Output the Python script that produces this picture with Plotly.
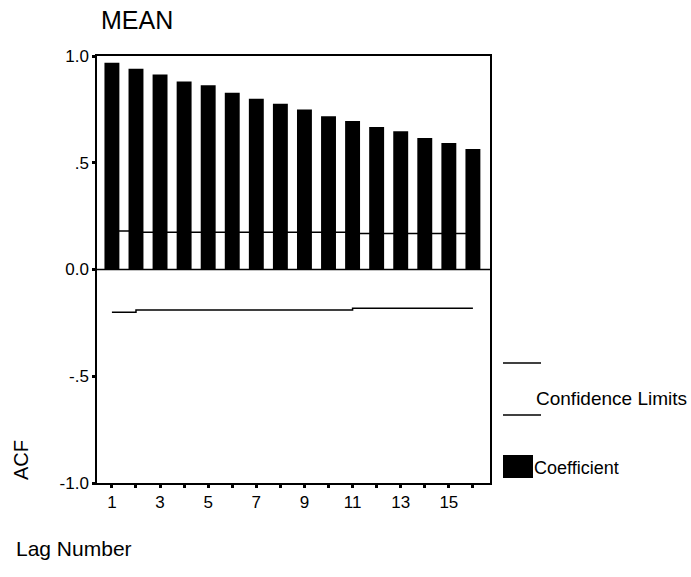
import plotly.graph_objects as go

lags = list(range(1, 17))
acf = [0.968, 0.940, 0.913, 0.880, 0.863, 0.828, 0.800, 0.776,
       0.749, 0.718, 0.696, 0.668, 0.647, 0.616, 0.592, 0.564]
upper_conf = [0.180, 0.174, 0.174, 0.174, 0.174, 0.174, 0.174, 0.174,
              0.174, 0.174, 0.169, 0.169, 0.169, 0.169, 0.169, 0.169]
lower_conf = [-0.200, -0.190, -0.190, -0.190, -0.190, -0.190, -0.190, -0.190,
              -0.190, -0.190, -0.182, -0.182, -0.182, -0.182, -0.182, -0.182]
x_tick_vals = lags
x_tick_text = ["1", "", "3", "", "5", "", "7", "", "9", "", "11", "", "13", "", "15", ""]
y_tick_vals = [1.0, 0.5, 0.0, -0.5, -1.0]
y_tick_text = ["1.0", ".5", "0.0", "-.5", "-1.0"]

W, H = 691, 577
L, R, T, B = 97, 490, 56, 483
FONT = "Liberation Sans, Arial, sans-serif"

def px(x):
    return (x - L) / (R - L)

def py(y):
    return (B - y) / (B - T)

fig = go.Figure()
fig.add_trace(go.Scatter(x=lags, y=upper_conf, mode="lines", line=dict(color="black", width=1.5, shape="hv"),
                         showlegend=False, hoverinfo="skip"))
fig.add_trace(go.Scatter(x=lags, y=lower_conf, mode="lines", line=dict(color="black", width=1.5, shape="hv"),
                         showlegend=False, hoverinfo="skip"))
fig.add_trace(go.Bar(x=lags, y=acf, width=0.62, marker=dict(color="black", line=dict(width=0)),
                     showlegend=False))

shapes = [
    dict(type="line", xref="paper", yref="y", x0=0, x1=1, y0=0, y1=0, line=dict(color="black", width=1.5)),
    dict(type="line", xref="paper", yref="paper", x0=px(503), x1=px(541), y0=py(363), y1=py(363),
         line=dict(color="black", width=1.5)),
    dict(type="line", xref="paper", yref="paper", x0=px(503), x1=px(541), y0=py(415), y1=py(415),
         line=dict(color="black", width=1.5)),
    dict(type="rect", xref="paper", yref="paper", x0=px(503), x1=px(533), y0=py(478), y1=py(455),
         fillcolor="black", line=dict(width=0)),
]

annotations = [
    dict(text="MEAN", xref="paper", yref="paper", x=px(99), y=py(20), xanchor="left", yanchor="middle",
         showarrow=False, font=dict(size=25, family=FONT, color="black")),
    dict(text="ACF", xref="paper", yref="paper", x=px(21), y=py(460), xanchor="center", yanchor="middle",
         textangle=-90, showarrow=False, font=dict(size=20, family=FONT, color="black")),
    dict(text="Lag Number", xref="paper", yref="paper", x=px(14), y=py(548), xanchor="left", yanchor="middle",
         showarrow=False, font=dict(size=21, family=FONT, color="black")),
    dict(text="Confidence Limits", xref="paper", yref="paper", x=px(534), y=py(398), xanchor="left",
         yanchor="middle", showarrow=False, font=dict(size=19, family=FONT, color="black")),
    dict(text="Coefficient", xref="paper", yref="paper", x=px(532), y=py(468), xanchor="left",
         yanchor="middle", showarrow=False, font=dict(size=18, family=FONT, color="black")),
]

fig.update_layout(
    width=W, height=H,
    margin=dict(l=L, r=W - R, t=T, b=H - B, pad=0),
    paper_bgcolor="white", plot_bgcolor="white",
    font=dict(family=FONT, color="black", size=16),
    shapes=shapes, annotations=annotations,
)
fig.update_xaxes(range=[0.38, 16.71], tickmode="array", tickvals=x_tick_vals, ticktext=x_tick_text,
                 showgrid=False, zeroline=False, showline=True, linecolor="black", linewidth=1.5, mirror=True,
                 ticks="outside", ticklen=3, tickwidth=3, tickcolor="black",
                 tickfont=dict(size=17, family=FONT))
fig.update_yaxes(range=[-1, 1], tickmode="array", tickvals=y_tick_vals, ticktext=y_tick_text,
                 showgrid=False, zeroline=False, showline=True, linecolor="black", linewidth=1.5, mirror=True,
                 ticks="outside", ticklen=3, tickwidth=3, tickcolor="black",
                 tickfont=dict(size=17, family=FONT))

fig.write_html("out.html", config={"displayModeBar": False},
               post_script="document.body.style.margin='0';document.body.style.padding='0';")
